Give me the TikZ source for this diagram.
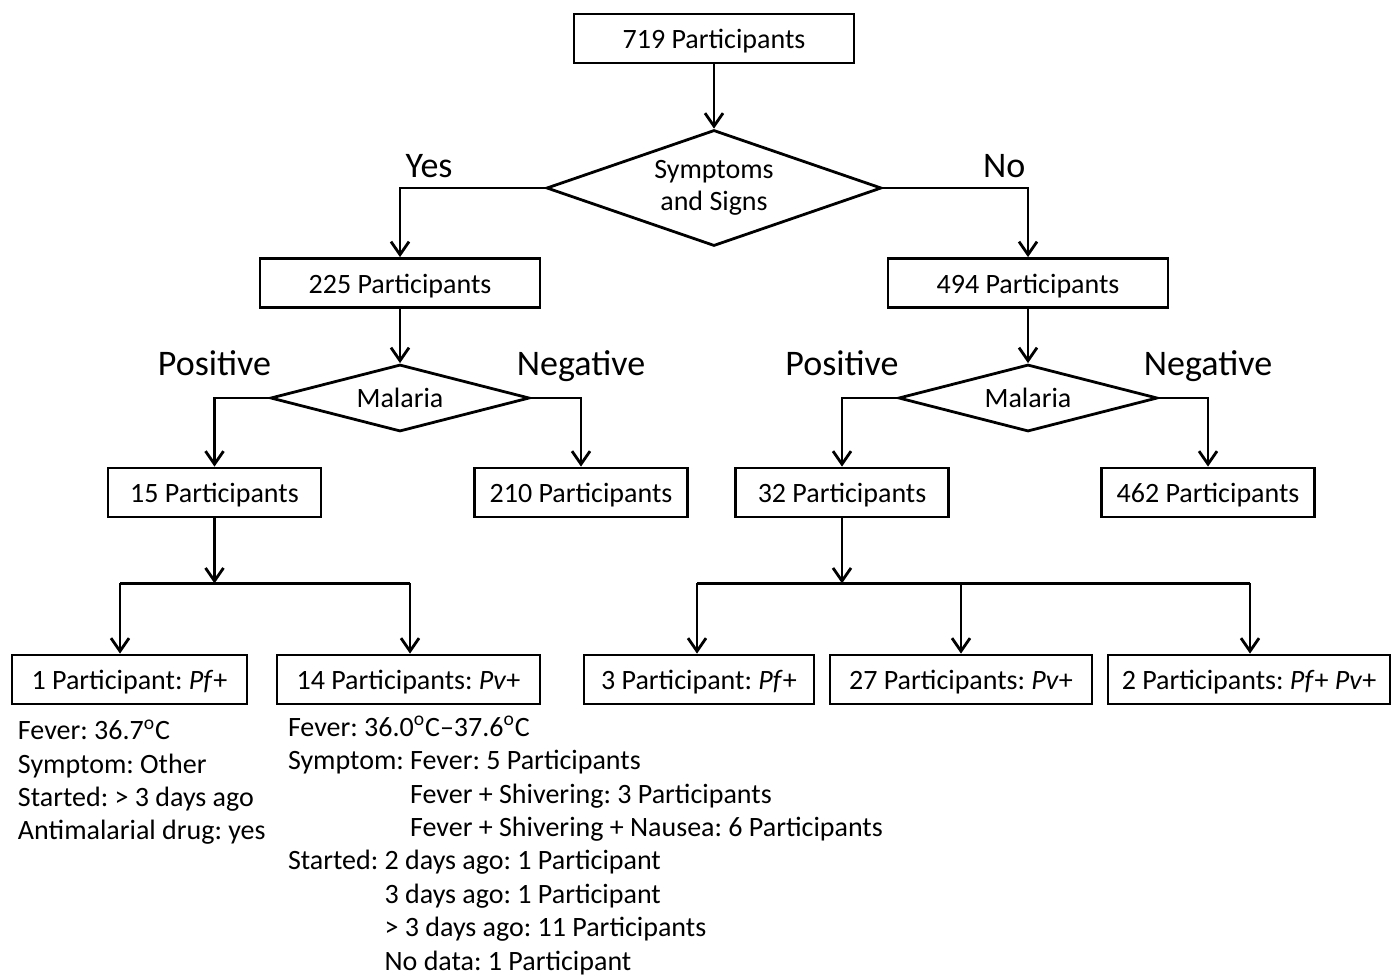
\documentclass[tikz,border=0pt]{standalone}
\usepackage{fontspec}
\setmainfont{Carlito}
\usetikzlibrary{shapes.geometric, positioning, arrows.meta}
\frenchspacing

\tikzset{
  box/.style={draw, line width=1.4pt, minimum height=24.5pt, inner sep=0pt, text height=10.3pt, text depth=0pt, font=\fontsize{14}{16}\selectfont},
  decision/.style={draw, diamond, line width=1.4pt, inner sep=0pt, align=center, font=\fontsize{14}{16}\selectfont},
  lbl/.style={font=\fontsize{18}{20}\selectfont, anchor=base, inner sep=0pt},
  note/.style={align=left, anchor=north west, inner sep=0pt, font=\fontsize{14}{16.7}\selectfont},
}

\begin{document}
\begin{tikzpicture}[->,>={Straight Barb[length=6.5pt,width=9pt]}, line width=1.4pt, on grid]

\useasboundingbox (0,0) rectangle (698pt,-487.5pt);

\node[box, minimum width=140pt] (p719) at (357pt,-19.25pt) {719 Participants};
\node[decision, aspect=2.89, minimum width=167.5pt, minimum height=58pt, below=74.75pt of p719] (symp) {Symptoms\\and Signs};
\node[box, minimum width=140pt, below left=47.5pt and 157pt of symp] (p225) {225 Participants};
\node[box, minimum width=140pt, below right=47.5pt and 157pt of symp] (p494) {494 Participants};

\node[decision, aspect=3.87, minimum width=129.5pt, minimum height=33.5pt, below=57.5pt of p225] (mal1) {Malaria};
\node[decision, aspect=3.87, minimum width=129.5pt, minimum height=33.5pt, below=57.5pt of p494] (mal2) {Malaria};

\node[box, minimum width=106.5pt, below left=47.25pt and 92.75pt of mal1] (p15) {15 Participants};
\node[box, minimum width=106.5pt, below right=47.25pt and 90.5pt of mal1] (p210) {210 Participants};
\node[box, minimum width=106.5pt, below left=47.25pt and 93pt of mal2] (p32) {32 Participants};
\node[box, minimum width=106.5pt, below right=47.25pt and 90pt of mal2] (p462) {462 Participants};

%species
\node[box, minimum width=117.5pt, below left=93.5pt and 42.5pt of p15] (pf1) {1 Participant: \textit{Pf}+};
\node[box, minimum width=131.5pt, below right=93.5pt and 97pt of p15] (pv14) {14 Participants: \textit{Pv}+};
\node[box, minimum width=115pt, below left=93.5pt and 71.5pt of p32] (pf3) {3 Participant: \textit{Pf}+};
\node[box, minimum width=131pt, below right=93.5pt and 59.5pt of p32] (pv27) {27 Participants: \textit{Pv}+};
\node[box, minimum width=141pt, below right=93.5pt and 203.5pt of p32] (pfv2) {2 Participants: \textit{Pf}+ \textit{Pv}+};

\path (p719) edge (symp);
\draw (symp.west) -| node[lbl, pos=0.4, yshift=5.5pt]{Yes} (p225);
\draw (symp.east) -| node[lbl, pos=0.418, yshift=5.5pt]{No} (p494);

\path (p225) edge (mal1);
\path (p494) edge (mal2);
\draw (mal1.west) -| node[lbl, pos=0.5, yshift=11.5pt]{Positive} (p15);
\draw (mal1.east) -| node[lbl, pos=0.5, yshift=11.5pt]{Negative} (p210);
\draw (mal2.west) -| node[lbl, pos=0.5, yshift=11.5pt]{Positive} (p32);
\draw (mal2.east) -| node[lbl, pos=0.5, yshift=11.5pt]{Negative} (p462);

%split bars
\coordinate (j1) at ([yshift=-32.5pt]p15.south);
\coordinate (b1a) at ([xshift=-47.25pt]j1);
\coordinate (b1b) at ([xshift=97.75pt]j1);
\draw (p15) -- (j1);
\draw[-] (b1a) -- (b1b);
\draw (b1a) -- (b1a |- pf1.north);
\draw (b1b) -- (b1b |- pv14.north);

\coordinate (j2) at ([yshift=-32.5pt]p32.south);
\coordinate (b2a) at ([xshift=-72.5pt]j2);
\coordinate (b2b) at ([xshift=59.5pt]j2);
\coordinate (b2c) at ([xshift=204pt]j2);
\draw (p32) -- (j2);
\draw[-] (b2a) -- (b2c);
\draw (b2a) -- (b2a |- pf3.north);
\draw (b2b) -- (b2b |- pv27.north);
\draw (b2c) -- (b2c |- pfv2.north);

%notes
\node[note] (n1) at ([xshift=3pt, yshift=-6.5pt]pf1.south west) {Fever: 36.7\textsuperscript{o}C\\
Symptom: Other\\
Started: > 3 days ago\\
Antimalarial drug: yes};
\node[note] (n14) at ([xshift=5.5pt, yshift=-4.8pt]pv14.south west) {Fever: 36.0\textsuperscript{o}C--37.6\textsuperscript{o}C\\
Symptom: Fever: 5 Participants\\
\hphantom{Symptom: }Fever + Shivering: 3 Participants\\
\hphantom{Symptom: }Fever + Shivering + Nausea: 6 Participants\\
Started: 2 days ago: 1 Participant\\
\hphantom{Started: }3 days ago: 1 Participant\\
\hphantom{Started: }> 3 days ago: 11 Participants\\
\hphantom{Started: }No data: 1 Participant};

\end{tikzpicture}
\end{document}
